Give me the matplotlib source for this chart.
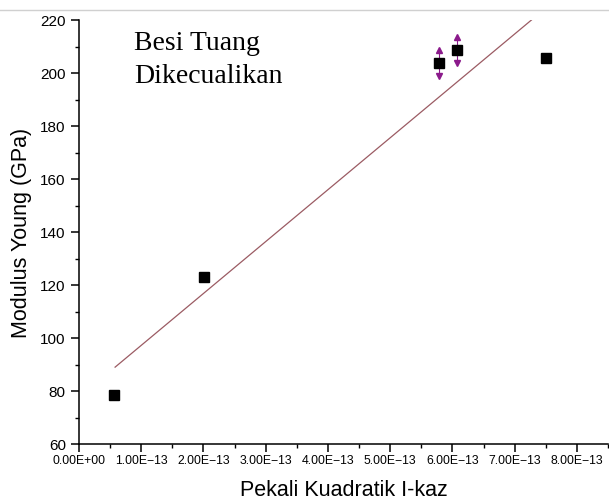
import matplotlib.pyplot as plt
from matplotlib.lines import Line2D
from matplotlib.ticker import MultipleLocator, FuncFormatter

# data
x_pts = [0.56e-13, 2.01e-13, 5.79e-13, 6.07e-13, 7.51e-13]
y_pts = [78.5, 122.9, 203.8, 208.7, 205.7]
# two points with arrow-capped error bars
x_err = [5.79e-13, 6.07e-13]
y_err = [203.8, 208.7]
err = [5.0, 5.0]
# fitted line end points
x_fit = [0.58e-13, 7.27e-13]
y_fit = [89.0, 220.0]
x_ticks = [i * 1e-13 for i in range(9)]

plt.rcParams['font.family'] = ['Liberation Sans', 'DejaVu Sans']

fig = plt.figure(figsize=(6.09, 5.02), dpi=100)
ax = fig.add_axes([79/609, 57/502, 529/609, 424/502])

ax.plot(x_fit, y_fit, color='#9b5b63', lw=0.9, zorder=2)
ax.plot(x_pts, y_pts, 's', color='black', ms=6.8, zorder=3)
for xe, ye, e in zip(x_err, y_err, err):
    ax.plot([xe, xe], [ye - e, ye + e], color='#8b1a8b', lw=0.8, zorder=2)
    ax.plot(xe, ye + e, '^', color='#8b1a8b', ms=4, zorder=3)
    ax.plot(xe, ye - e, 'v', color='#8b1a8b', ms=4, zorder=3)

ax.set_xlim(0, 8.5e-13)
ax.set_ylim(60, 220)
ax.set_xticks(x_ticks)
ax.xaxis.set_minor_locator(MultipleLocator(0.5e-13))
ax.yaxis.set_major_locator(MultipleLocator(20))
ax.yaxis.set_minor_locator(MultipleLocator(10))

def fmt(v, pos):
    s = '%.2E' % v
    return s.replace('-', '\u2212')
ax.xaxis.set_major_formatter(FuncFormatter(fmt))

for s in ['top', 'right']:
    ax.spines[s].set_visible(False)
for s in ['left', 'bottom']:
    ax.spines[s].set_linewidth(1.1)
ax.tick_params(which='major', direction='out', length=6, width=1.1)
ax.tick_params(which='minor', direction='out', length=3, width=1.0)
ax.tick_params(axis='x', labelsize=8.8, pad=1.5)
ax.tick_params(axis='y', labelsize=11, pad=3.5)

ax.set_xlabel('Pekali Kuadratik I-kaz', fontsize=15.5, labelpad=9)
ax.set_ylabel('Modulus Young (GPa)', fontsize=15.5, labelpad=6)

ax.text(0.88e-13, 209, 'Besi Tuang', fontsize=20, family='Liberation Serif')
ax.text(0.88e-13, 196.6, 'Dikecualikan', fontsize=20, family='Liberation Serif')

fig.add_artist(Line2D([0, 1], [1 - 10.5/502, 1 - 10.5/502], color='#d0d0d0', lw=1.0,
                      transform=fig.transFigure))

fig.savefig('out.png', dpi=100)
